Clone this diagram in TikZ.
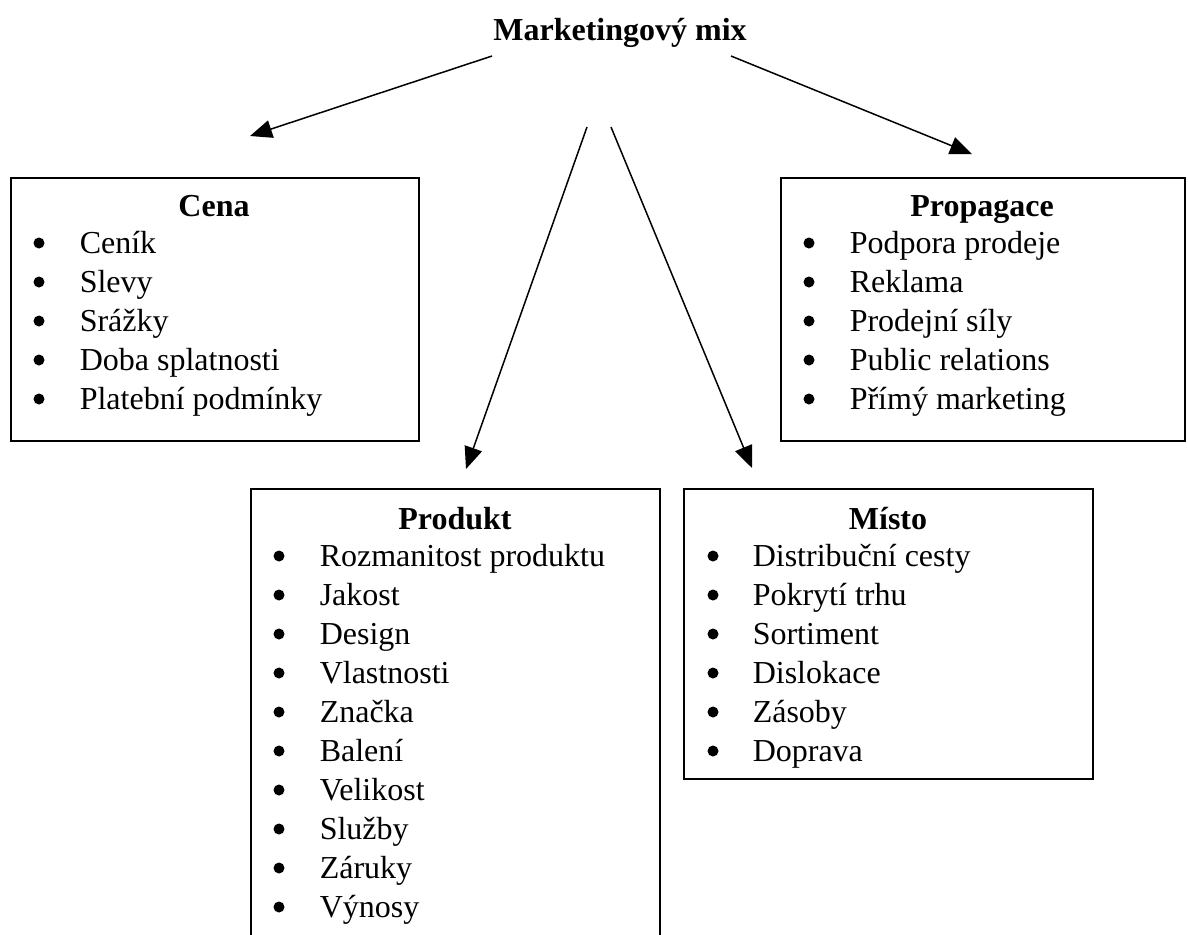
\documentclass[tikz,border=0pt]{standalone}
\usepackage{fontspec}
\setmainfont{Liberation Serif}
\usetikzlibrary{arrows.meta}

\begin{document}
\begin{tikzpicture}[x=0.5pt, y=-0.5pt, line width=0.75pt,
    font=\fontsize{16}{19.5}\selectfont,
    box/.style={draw, line width=1pt, anchor=north west, inner sep=0pt},
    heading/.style={anchor=base, font=\fontsize{16}{19.5}\selectfont\bfseries},
    entry/.style={anchor=base west, inner sep=0pt},
    link/.style={-{Triangle[length=11pt, width=9pt]}}]
    \useasboundingbox (0,0) rectangle (1188,934);
    \clip (0,0) rectangle (1188,934);

    \node at (620, 40) [heading] (mix) {Marketingový mix};

    % boxes
    \node at (10, 177) [box, minimum width=204pt, minimum height=131.5pt] (cena) {};
    \node at (780, 177) [box, minimum width=202pt, minimum height=131.5pt] (propagace) {};
    \node at (250, 488) [box, minimum width=204.5pt, minimum height=235pt] (produkt) {};
    \node at (683, 488) [box, minimum width=204.5pt, minimum height=145pt] (misto) {};

    \node at (214, 216) [heading] (cena head) {Cena};
    \node at (982, 216) [heading] (propagace head) {Propagace};
    \node at (455, 529) [heading] (produkt head) {Produkt};
    \node at (888, 529) [heading] (misto head) {Místo};

    \foreach \t [count=\i] in {Ceník, Slevy, Srážky, Doba splatnosti, Platební podmínky} {
        \fill (39, {243+39*(\i-1)}) circle (5.5);
        \node at (79, {253+39*(\i-1)}) [entry] (cena \i) {\t};
    }
    \foreach \t [count=\i] in {Podpora prodeje, Reklama, Prodejní síly, Public relations, Přímý marketing} {
        \fill (809, {243+39*(\i-1)}) circle (5.5);
        \node at (849, {253+39*(\i-1)}) [entry] (propagace \i) {\t};
    }
    \foreach \t [count=\i] in {Rozmanitost produktu, Jakost, Design, Vlastnosti, Značka, Balení, Velikost, Služby, Záruky, Výnosy} {
        \fill (279, {556+39*(\i-1)}) circle (5.5);
        \node at (319, {566+39*(\i-1)}) [entry] (produkt \i) {\t};
    }
    \foreach \t [count=\i] in {Distribuční cesty, Pokrytí trhu, Sortiment, Dislokace, Zásoby, Doprava} {
        \fill (713, {556+39*(\i-1)}) circle (5.5);
        \node at (752, {566+39*(\i-1)}) [entry] (misto \i) {\t};
    }

    % arrows
    \coordinate (mix left) at (492, 56);
    \coordinate (mix right) at (731, 56);
    \coordinate (mix down left) at (587, 127);
    \coordinate (mix down right) at (611, 127);
    \coordinate (cena in) at (250, 136);
    \coordinate (propagace in) at (972, 154);
    \coordinate (produkt in) at (466, 469);
    \coordinate (misto in) at (752, 468);

    \draw [link] (mix left) -- (cena in);
    \draw [link] (mix right) -- (propagace in);
    \draw [link] (mix down left) -- (produkt in);
    \draw [link] (mix down right) -- (misto in);
\end{tikzpicture}
\end{document}
